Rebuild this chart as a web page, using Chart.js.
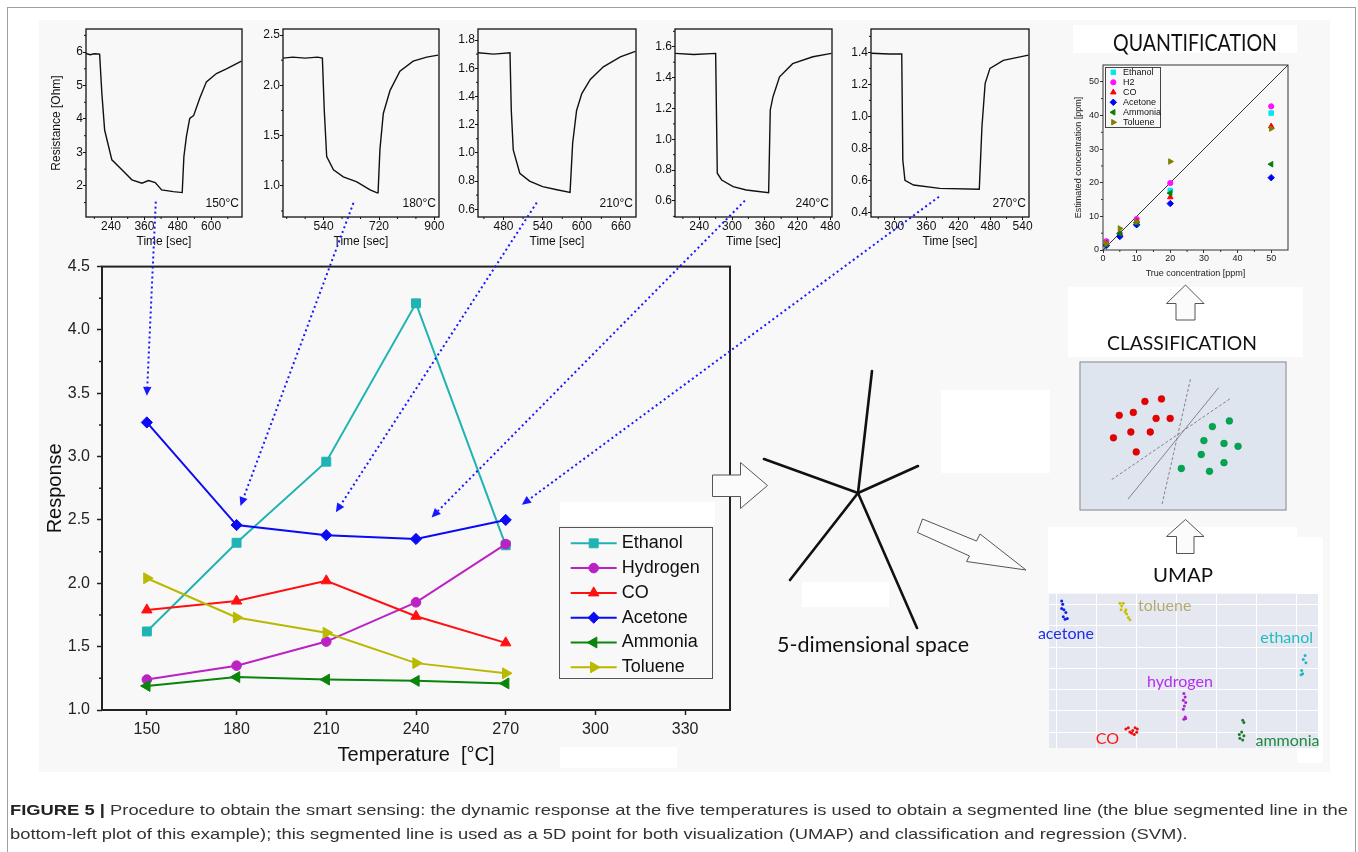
<!DOCTYPE html>
<html>
<head>
<meta charset="utf-8">
<title>Figure 5 – smart sensing procedure</title>
<script src="https://cdn.jsdelivr.net/npm/chart.js@4.4.1/dist/chart.umd.min.js"></script>
<style>
html,body{margin:0;padding:0;background:#fff;}
body{position:relative;width:1358px;height:852px;overflow:hidden;font-family:'Liberation Sans',Arial,sans-serif;}
.abs{position:absolute;}
canvas{position:absolute;}
.ttl{position:absolute;white-space:nowrap;font-family:Lato,'Open Sans',sans-serif;color:#111;transform-origin:0 50%;line-height:1.2;}
.cap{position:absolute;white-space:nowrap;font-family:'Liberation Sans',Arial,sans-serif;font-size:15px;color:#333;transform-origin:0 50%;line-height:1.2;}
.cap b{color:#222;}
</style>
</head>
<body>
<div class="abs" style="left:7px;top:7px;width:1347px;height:860px;border:1px solid #a0a0a0;"></div>
<div class="abs" style="left:39px;top:20px;width:1291px;height:752px;background:#f8f8f8;"></div>
<div class="abs" style="left:1073px;top:25px;width:224px;height:28px;background:#fff;"></div>
<div class="abs" style="left:1068px;top:287px;width:235px;height:70px;background:#fff;"></div>
<div class="abs" style="left:941px;top:390px;width:109px;height:83px;background:#fff;"></div>
<div class="abs" style="left:802px;top:582px;width:87px;height:25px;background:#fff;"></div>
<div class="abs" style="left:560px;top:502px;width:155px;height:23px;background:#fff;"></div>
<div class="abs" style="left:560px;top:747px;width:117px;height:21px;background:#fff;"></div>
<div class="abs" style="left:1048px;top:527px;width:249px;height:66px;background:#fff;"></div>
<div class="abs" style="left:1297px;top:537px;width:26px;height:226px;background:#fff;"></div>

<canvas id="c150" width="210" height="232" style="left:40px;top:20px"></canvas>
<canvas id="c180" width="194" height="232" style="left:253px;top:20px"></canvas>
<canvas id="c210" width="196" height="232" style="left:448px;top:20px"></canvas>
<canvas id="c240" width="195" height="232" style="left:645px;top:20px"></canvas>
<canvas id="c270" width="196" height="232" style="left:841px;top:20px"></canvas>
<canvas id="mainChart" width="720" height="530" style="left:20px;top:250px"></canvas>
<canvas id="quantChart" width="240" height="225" style="left:1062px;top:58px"></canvas>
<canvas id="classChart" width="216" height="158" style="left:1075px;top:357px"></canvas>
<canvas id="umapChart" width="295" height="163" style="left:1035px;top:590px"></canvas>

<svg class="abs" style="left:0;top:0" width="1358" height="852">
  <g stroke="#111" stroke-width="2.6" stroke-linecap="round">
    <line x1="858" y1="493" x2="872" y2="371"/>
    <line x1="858" y1="493" x2="918" y2="466"/>
    <line x1="858" y1="493" x2="917" y2="628"/>
    <line x1="858" y1="493" x2="790" y2="580"/>
    <line x1="858" y1="493" x2="764" y2="459"/>
  </g>
  <g fill="#fbfbfb" stroke="#555" stroke-width="1">
    <polygon points="712.5,475 740.5,475 740.5,462.5 767.5,485.5 740.5,508.5 740.5,496.5 712.5,496.5"/>
    <polygon points="922.5,519 976.5,541 980,534 1026,570 966.5,561.5 969.5,556 917.5,532.5"/>
    <polygon points="1185.5,519.5 1204,536.5 1194,536.5 1194,553.5 1176.5,553.5 1176.5,536.5 1166.5,536.5"/>
    <polygon points="1185.5,285 1204,303.5 1195,303.5 1195,320 1176,320 1176,303.5 1166.5,303.5"/>
  </g>
</svg>
<canvas id="overlay" width="1358" height="852" style="left:0;top:0;pointer-events:none"></canvas>

<div class="ttl" id="tQuant">QUANTIFICATION</div>
<div class="ttl" id="tClass">CLASSIFICATION</div>
<div class="ttl" id="tUmap">UMAP</div>
<div class="ttl" id="t5d">5-dimensional space</div>
<div class="cap" id="cap1"><b>FIGURE 5 |</b> Procedure to obtain the smart sensing: the dynamic response at the five temperatures is used to obtain a segmented line (the blue segmented line in the</div>
<div class="cap" id="cap2">bottom-left plot of this example); this segmented line is used as a 5D point for both visualization (UMAP) and classification and regression (SVM).</div>

<script>
// ======================= DATA =======================
// Main chart: response vs temperature
const temperatures = [150, 180, 210, 240, 270];
const tempTicks = [150, 180, 210, 240, 270, 300, 330];
const responseTicks = [1.0, 1.5, 2.0, 2.5, 3.0, 3.5, 4.0, 4.5];
const responseMinor = [1.25, 1.75, 2.25, 2.75, 3.25, 3.75, 4.25];
const gasNames = ['Ethanol', 'Hydrogen', 'CO', 'Acetone', 'Ammonia', 'Toluene'];
const ethanol  = [1.62, 2.32, 2.96, 4.21, 2.30];
const hydrogen = [1.24, 1.35, 1.54, 1.85, 2.31];
const co       = [1.79, 1.86, 2.02, 1.74, 1.53];
const acetone  = [3.27, 2.46, 2.38, 2.35, 2.50];
const ammonia  = [1.19, 1.26, 1.24, 1.23, 1.21];
const toluene  = [2.04, 1.73, 1.61, 1.37, 1.29];

// Dynamic responses (resistance vs time) at the five temperatures
const time150 = [150, 165, 180, 199, 207, 217, 243, 279, 315, 351, 375, 399, 422, 464, 496, 502, 511, 523, 537, 559, 583, 619, 655, 709];
const res150  = [5.96, 5.92, 5.95, 5.94, 4.77, 3.67, 2.78, 2.48, 2.18, 2.08, 2.16, 2.10, 1.88, 1.83, 1.80, 2.87, 3.47, 4.02, 4.10, 4.62, 5.11, 5.36, 5.50, 5.73];
const time180 = [408, 440, 480, 520, 536, 542, 550, 572, 604, 648, 691, 714, 717, 723, 734, 756, 788, 831, 875, 912];
const res180  = [2.27, 2.28, 2.27, 2.28, 2.27, 1.76, 1.29, 1.16, 1.09, 1.04, 0.96, 0.93, 0.93, 1.36, 1.72, 1.95, 2.14, 2.24, 2.28, 2.30];
const time210 = [441, 465, 490, 492, 495, 505, 520, 540, 560, 582, 586, 592, 600, 613, 633, 659, 682];
const res210  = [1.71, 1.70, 1.71, 1.30, 1.02, 0.855, 0.80, 0.76, 0.74, 0.72, 1.07, 1.30, 1.42, 1.52, 1.61, 1.68, 1.72];
const time240 = [196, 230, 270, 273, 281, 302, 326, 367, 370, 375, 387, 411, 448, 482];
const res240  = [1.557, 1.55, 1.557, 0.78, 0.736, 0.693, 0.671, 0.654, 1.19, 1.276, 1.405, 1.49, 1.535, 1.557];
const time270 = [257, 290, 314, 316, 320, 336, 385, 459, 464, 470, 479, 504, 551];
const res270  = [1.394, 1.39, 1.39, 0.727, 0.60, 0.571, 0.55, 0.544, 0.935, 1.206, 1.30, 1.35, 1.383];
const tempLabels = ['150°C', '180°C', '210°C', '240°C', '270°C'];
const xTicks150 = [240, 360, 480, 600];             const xMinor150 = [180, 300, 420, 540, 660];
const yTicks150 = [2, 3, 4, 5, 6];                  const yMinor150 = [1.5, 2.5, 3.5, 4.5, 5.5, 6.5];
const xTicks180 = [540, 720, 900];                  const xMinor180 = [420, 480, 600, 660, 780, 840];
const yTicks180 = [1.0, 1.5, 2.0, 2.5];             const yMinor180 = [0.75, 1.25, 1.75, 2.25];
const xTicks210 = [480, 540, 600, 660];             const xMinor210 = [450, 510, 570, 630];
const yTicks210 = [0.6, 0.8, 1.0, 1.2, 1.4, 1.6, 1.8]; const yMinor210 = [0.7, 0.9, 1.1, 1.3, 1.5, 1.7];
const xTicks240 = [240, 300, 360, 420, 480];        const xMinor240 = [210, 270, 330, 390, 450];
const yTicks240 = [0.6, 0.8, 1.0, 1.2, 1.4, 1.6];   const yMinor240 = [0.5, 0.7, 0.9, 1.1, 1.3, 1.5, 1.7];
const xTicks270 = [300, 360, 420, 480, 540];        const xMinor270 = [270, 330, 390, 450, 510];
const yTicks270 = [0.4, 0.6, 0.8, 1.0, 1.2, 1.4];   const yMinor270 = [0.5, 0.7, 0.9, 1.1, 1.3, 1.5];

// Quantification: estimated vs true concentration
const trueConc = [1, 5, 10, 20, 50];
const quantNames = ['Ethanol', 'H2', 'CO', 'Acetone', 'Ammonia', 'Toluene'];
const estEthanol = [2.5, 4.5, 7.7, 17.7, 40.7];
const estH2      = [2.6, 4.8, 9.2, 19.9, 42.7];
const estCO      = [2.0, 4.6, 8.5, 15.7, 36.8];
const estAcetone = [1.3, 4.0, 7.5, 13.8, 21.5];
const estAmmonia = [1.6, 4.9, 8.1, 16.9, 25.5];
const estToluene = [1.9, 6.4, 8.4, 26.3, 36.1];
const idealLine = [0, 55];
const quantTicks = [0, 10, 20, 30, 40, 50];
const quantMinor = [5, 15, 25, 35, 45];

// Classification sketch (arbitrary 0-100 feature space)
const classRedX   = [31.6, 39.6, 19.2, 26.0, 37.0, 43.8, 24.8, 34.2, 16.4, 27.4];
const classRedY   = [73.2, 74.9, 63.9, 65.8, 61.8, 61.8, 52.7, 52.7, 48.8, 39.3];
const classGreenX = [72.4, 64.2, 60.1, 69.8, 76.6, 58.8, 69.8, 49.2, 62.8];
const classGreenY = [60.1, 56.3, 46.9, 45.0, 43.1, 37.6, 32.1, 28.2, 26.3];
const boundAX = [53.6, 39.8]; const boundAY = [88.1, 3.8];
const boundBX = [67.2, 23.4]; const boundBY = [82.4, 7.6];
const boundCX = [72.6, 15.2]; const boundCY = [74.9, 20.4];

// UMAP embedding
const umapAcetoneX  = [-0.875, -0.85, -0.875, -0.82, -0.77, -0.835, -0.79, -0.735];
const umapAcetoneY  = [1.17, 1.01, 0.81, 0.75, 0.62, 0.43, 0.31, 0.34];
const umapTolueneX  = [0.58, 0.625, 0.665, 0.61, 0.71, 0.75, 0.79, 0.83, 0.73];
const umapTolueneY  = [1.06, 0.93, 1.06, 0.75, 0.65, 0.55, 0.39, 0.28, 0.75];
const umapEthanolX  = [5.21, 5.165, 5.23, 5.125, 5.15, 5.11];
const umapEthanolY  = [-1.40, -1.59, -1.74, -2.10, -2.26, -2.30];
const umapHydrogenX = [2.18, 2.21, 2.165, 2.225, 2.19, 2.165, 2.21, 2.18, 2.225];
const umapHydrogenY = [-3.19, -3.35, -3.50, -3.61, -3.77, -3.93, -4.29, -4.39, -4.36];
const umapCOX       = [0.73, 0.79, 0.83, 0.90, 0.96, 1.015, 1.0, 0.94, 0.88];
const umapCOY       = [-4.86, -4.80, -4.99, -4.92, -4.80, -4.86, -5.01, -5.11, -5.06];
const umapAmmoniaX  = [3.65, 3.68, 3.625, 3.565, 3.58, 3.65, 3.68];
const umapAmmoniaY  = [-4.44, -4.55, -4.99, -5.11, -5.29, -5.37, -5.17];
const umapLabelText = ['acetone', 'toluene', 'ethanol', 'hydrogen', 'CO', 'ammonia'];
const umapLabelX    = [-0.77, 1.70, 4.75, 2.08, 0.27, 4.77];
const umapLabelY    = [-0.39, 0.93, -0.55, -2.65, -5.34, -5.42];
const umapGridX = [-1, 0, 1, 2, 3, 4, 5];
const umapGridY = [1, 0, -1, -2, -3, -4, -5];

// Annotation arrows: from a point of each dynamic-response plot to the main plot
const arrowFromT = [401, 637, 531, 323.5, 383.6];
const arrowFromR = [1.53, 0.83, 0.647, 0.602, 0.4975];
const arrowToT   = [150, 181.3, 213.2, 245.2, 275.4];
const arrowToR   = [3.48, 2.61, 2.56, 2.52, 2.62];

// ======================= SETUP =======================
const ARIAL = "'Liberation Sans', Arial, Helvetica, sans-serif";
Chart.defaults.font.family = ARIAL;
Chart.defaults.color = '#111';
Chart.defaults.animation = false;
Chart.defaults.responsive = false;
Chart.defaults.events = [];
Chart.defaults.plugins.legend.display = false;
Chart.defaults.plugins.tooltip.enabled = false;

function drawMarker(c, ds, x, y) {
  if (Chart.helpers && Chart.helpers.drawPoint) {
    Chart.helpers.drawPoint(c, {pointStyle: ds.pointStyle, rotation: ds.pointRotation || 0, radius: ds.pointRadius, borderWidth: 1}, x, y);
  } else {
    c.beginPath(); c.arc(x, y, ds.pointRadius, 0, Math.PI * 2); c.fill();
  }
}

const bgPlugin = {
  id: 'areaBg',
  beforeDraw(chart, args, o) {
    if (!o || !o.color) return;
    const a = chart.chartArea, c = chart.ctx;
    c.save(); c.fillStyle = o.color; c.fillRect(a.left, a.top, a.right - a.left, a.bottom - a.top); c.restore();
  }
};
const framePlugin = {
  id: 'frame',
  afterDraw(chart, args, o) {
    if (!o || !o.color) return;
    const a = chart.chartArea, c = chart.ctx, h = o.inset || 0;
    c.save(); c.strokeStyle = o.color; c.lineWidth = o.width || 1;
    c.strokeRect(a.left + h, a.top + h, a.right - a.left - 2 * h, a.bottom - a.top - 2 * h);
    c.restore();
  }
};
const minorPlugin = {
  id: 'minorTicks',
  afterDraw(chart, args, o) {
    if (!o || !o.len) return;
    const a = chart.chartArea, c = chart.ctx;
    c.save(); c.strokeStyle = o.color || '#111'; c.lineWidth = o.width || 1; c.beginPath();
    (o.x || []).forEach(v => { const p = chart.scales.x.getPixelForValue(v); c.moveTo(p, a.bottom); c.lineTo(p, a.bottom + o.len); });
    (o.y || []).forEach(v => { const p = chart.scales.y.getPixelForValue(v); c.moveTo(a.left, p); c.lineTo(a.left - o.len, p); });
    c.stroke(); c.restore();
  }
};
const cornerPlugin = {
  id: 'cornerText',
  afterDraw(chart, args, o) {
    if (!o || !o.text) return;
    const a = chart.chartArea, c = chart.ctx;
    c.save(); c.font = o.font; c.fillStyle = '#111'; c.textAlign = 'right'; c.textBaseline = 'middle';
    c.fillText(o.text, a.right - o.dx, a.bottom - o.dy); c.restore();
  }
};
const legendPlugin = {
  id: 'boxLegend',
  afterDraw(chart, args, o) {
    if (!o || !o.box) return;
    const c = chart.ctx, b = o.box;
    c.save();
    c.fillStyle = o.fill; c.fillRect(b[0], b[1], b[2], b[3]);
    c.strokeStyle = o.borderColor; c.lineWidth = 1; c.strokeRect(b[0] + 0.5, b[1] + 0.5, b[2], b[3]);
    let row = 0;
    chart.data.datasets.forEach(ds => {
      if (ds.noLegend) return;
      const y = o.rowY + row * o.rowH; row++;
      let mx = o.markerX;
      if (o.lineLen) {
        c.strokeStyle = ds.borderColor; c.lineWidth = ds.borderWidth; c.beginPath();
        c.moveTo(o.lineX, y); c.lineTo(o.lineX + o.lineLen, y); c.stroke();
        mx = o.lineX + o.lineLen / 2;
      }
      c.fillStyle = ds.pointBackgroundColor; c.strokeStyle = ds.pointBorderColor; c.lineWidth = 1;
      drawMarker(c, ds, mx, y);
      c.fillStyle = o.textColor; c.font = o.font; c.textAlign = 'left'; c.textBaseline = 'middle';
      c.fillText(ds.label, o.textX, y);
    });
    c.restore();
  }
};
const dataLabelPlugin = {
  id: 'dataLabels',
  afterDraw(chart, args, o) {
    if (!o || !o.texts) return;
    const c = chart.ctx;
    c.save(); c.font = o.font; c.textAlign = 'center'; c.textBaseline = 'middle';
    o.texts.forEach((t, i) => {
      c.fillStyle = o.colors[i];
      c.fillText(t, chart.scales.x.getPixelForValue(o.xs[i]), chart.scales.y.getPixelForValue(o.ys[i]));
    });
    c.restore();
  }
};
Chart.register(bgPlugin, framePlugin, minorPlugin, cornerPlugin, legendPlugin, dataLabelPlugin);

const pts = (xs, ys) => xs.map((x, i) => ({x: x, y: ys[i]}));
const fixedTicks = arr => (s => { s.ticks = arr.map(v => ({value: v})); });

// ======================= SMALL CHARTS =======================
const smallSpecs = [
  {id: 'c150', t: time150, r: res150, xMin: 150, xMax: 711, yMin: 1.07, yMax: 6.69, xT: xTicks150, xM: xMinor150, yT: yTicks150, yM: yMinor150, dec: 0, label: tempLabels[0], yTitle: true},
  {id: 'c180', t: time180, r: res180, xMin: 408, xMax: 915, yMin: 0.69, yMax: 2.56, xT: xTicks180, xM: xMinor180, yT: yTicks180, yM: yMinor180, dec: 1, label: tempLabels[1], yTitle: false},
  {id: 'c210', t: time210, r: res210, xMin: 441, xMax: 683, yMin: 0.545, yMax: 1.878, xT: xTicks210, xM: xMinor210, yT: yTicks210, yM: yMinor210, dec: 1, label: tempLabels[2], yTitle: false},
  {id: 'c240', t: time240, r: res240, xMin: 195.6, xMax: 483, yMin: 0.496, yMax: 1.715, xT: xTicks240, xM: xMinor240, yT: yTicks240, yM: yMinor240, dec: 1, label: tempLabels[3], yTitle: false},
  {id: 'c270', t: time270, r: res270, xMin: 256.5, xMax: 552, yMin: 0.371, yMax: 1.546, xT: xTicks270, xM: xMinor270, yT: yTicks270, yM: yMinor270, dec: 1, label: tempLabels[4], yTitle: false}
];
const smallGeo = [{yW: 46, padR: 8}, {yW: 30, padR: 8}, {yW: 30, padR: 8}, {yW: 30, padR: 8}, {yW: 30, padR: 8}];

const smallCharts = smallSpecs.map((sp, k) => new Chart(document.getElementById(sp.id), {
  type: 'line',
  data: {datasets: [{data: pts(sp.t, sp.r), borderColor: '#111', borderWidth: 1.4, pointRadius: 0, tension: 0}]},
  options: {
    layout: {padding: {top: 9, right: smallGeo[k].padR, left: 0, bottom: 0}},
    plugins: {
      frame: {color: '#111', width: 1.3},
      minorTicks: {x: sp.xM, y: sp.yM, len: 2, color: '#111'},
      cornerText: {text: sp.label, font: '12px ' + ARIAL, dx: 3, dy: 13}
    },
    scales: {
      x: {
        type: 'linear', min: sp.xMin, max: sp.xMax,
        afterBuildTicks: fixedTicks(sp.xT), afterFit: s => { s.height = 35; },
        grid: {drawOnChartArea: false, tickLength: 3, tickColor: '#111'}, border: {display: false},
        ticks: {font: {size: 12}, color: '#111', padding: -1, maxRotation: 0, autoSkip: false, callback: v => String(v)},
        title: {display: true, text: 'Time [sec]', font: {size: 12}, color: '#111', padding: {top: 0, bottom: 3}}
      },
      y: {
        type: 'linear', min: sp.yMin, max: sp.yMax,
        afterBuildTicks: fixedTicks(sp.yT), afterFit: s => { s.width = smallGeo[k].yW; },
        grid: {drawOnChartArea: false, tickLength: 3, tickColor: '#111'}, border: {display: false},
        ticks: {font: {size: 12}, color: '#111', padding: 0, autoSkip: false, callback: v => v.toFixed(sp.dec)},
        title: {display: sp.yTitle, text: 'Resistance [Ohm]', font: {size: 12}, color: '#111', padding: {top: 9.5, bottom: 0}}
      }
    }
  }
}));

// ======================= MAIN CHART =======================
const mainSeries = [ethanol, hydrogen, co, acetone, ammonia, toluene];
const mainStyle = [
  {color: '#1fb3b3', shape: 'rect', r: 6.3, rot: 0},
  {color: '#bb22c4', shape: 'circle', r: 4.8, rot: 0},
  {color: '#ff1010', shape: 'triangle', r: 6, rot: 0},
  {color: '#0a0af5', shape: 'rectRot', r: 5.6, rot: 0},
  {color: '#0a840a', shape: 'triangle', r: 6.3, rot: -90},
  {color: '#b9b900', shape: 'triangle', r: 6.3, rot: 90}
];
const mainChart = new Chart(document.getElementById('mainChart'), {
  type: 'line',
  data: {
    datasets: mainSeries.map((vals, i) => ({
      label: gasNames[i], data: pts(temperatures, vals),
      borderColor: mainStyle[i].color, backgroundColor: mainStyle[i].color,
      pointBackgroundColor: mainStyle[i].color, pointBorderColor: mainStyle[i].color,
      pointStyle: mainStyle[i].shape, pointRadius: mainStyle[i].r, pointRotation: mainStyle[i].rot,
      pointBorderWidth: 1, borderWidth: 2, tension: 0, order: 6 - i, clip: false
    }))
  },
  options: {
    layout: {padding: {top: 11, right: 10, left: 0, bottom: 0}},
    plugins: {
      frame: {color: '#222', width: 2},
      minorTicks: {y: responseMinor, len: 3, color: '#222', width: 1.5},
      boxLegend: {box: [539, 277, 153, 151], fill: '#f8f8f8', borderColor: '#555', rowY: 293.3, rowH: 24.8,
                  lineX: 550.7, lineLen: 46, textX: 601.7, font: '18px ' + ARIAL, textColor: '#111'}
    },
    scales: {
      x: {
        type: 'linear', min: 135, max: 345,
        afterBuildTicks: fixedTicks(tempTicks), afterFit: s => { s.height = 70; },
        grid: {drawOnChartArea: false, tickLength: 5, tickColor: '#222', tickWidth: 1.5}, border: {display: false},
        ticks: {font: {size: 16}, color: '#222', padding: 5, maxRotation: 0, autoSkip: false, callback: v => String(v)},
        title: {display: true, text: 'Temperature  [°C]', font: {size: 20}, color: '#111', padding: {top: 0, bottom: 13}}
      },
      y: {
        type: 'linear', min: 1.0, max: 4.5,
        afterBuildTicks: fixedTicks(responseTicks), afterFit: s => { s.width = 82; },
        grid: {drawOnChartArea: false, tickLength: 5, tickColor: '#222', tickWidth: 1.5}, border: {display: false},
        ticks: {font: {size: 16}, color: '#222', padding: 7, autoSkip: false, callback: v => v.toFixed(1)},
        title: {display: true, text: 'Response', font: {size: 20}, color: '#111', padding: {top: 23, bottom: 0}}
      }
    }
  }
});

// ======================= QUANTIFICATION =======================
const quantSeries = [estEthanol, estH2, estCO, estAcetone, estAmmonia, estToluene];
const quantStyle = [
  {color: '#00e8ee', shape: 'rect', r: 3.2, rot: 0},
  {color: '#ff10ff', shape: 'circle', r: 2.6, rot: 0},
  {color: '#ff0000', shape: 'triangle', r: 3.2, rot: 0},
  {color: '#0000ff', shape: 'rectRot', r: 3.2, rot: 0},
  {color: '#008000', shape: 'triangle', r: 3.2, rot: -90},
  {color: '#808000', shape: 'triangle', r: 3.2, rot: 90}
];
const quantDatasets = quantSeries.map((vals, i) => ({
  label: quantNames[i], data: pts(trueConc, vals),
  backgroundColor: quantStyle[i].color, borderColor: quantStyle[i].color,
  pointBackgroundColor: quantStyle[i].color, pointBorderColor: quantStyle[i].color,
  pointStyle: quantStyle[i].shape, pointRadius: quantStyle[i].r, pointRotation: quantStyle[i].rot,
  pointBorderWidth: 1, borderWidth: 1, order: 6 - i
}));
quantDatasets.push({label: 'ideal', data: pts(idealLine, idealLine), showLine: true, borderColor: '#333', borderWidth: 1, pointRadius: 0, noLegend: true, order: 10});
const quantChart = new Chart(document.getElementById('quantChart'), {
  type: 'scatter',
  data: {datasets: quantDatasets},
  options: {
    layout: {padding: {top: 7, right: 14, left: 0, bottom: 0}},
    plugins: {
      frame: {color: '#333', width: 1},
      minorTicks: {x: quantMinor, y: quantMinor, len: 2, color: '#333'},
      boxLegend: {box: [43, 9, 55, 60], fill: '#f8f8f8', borderColor: '#444', rowY: 14.3, rowH: 10,
                  markerX: 51.3, textX: 61, font: '9px ' + ARIAL, textColor: '#111'}
    },
    scales: {
      x: {
        type: 'linear', min: 0, max: 55,
        afterBuildTicks: fixedTicks(quantTicks), afterFit: s => { s.height = 33; },
        grid: {drawOnChartArea: false, tickLength: 3, tickColor: '#333'}, border: {display: false},
        ticks: {font: {size: 9}, color: '#222', padding: 0, maxRotation: 0, autoSkip: false},
        title: {display: true, text: 'True concentration [ppm]', font: {size: 9}, color: '#222', padding: {top: 0, bottom: 4.3}}
      },
      y: {
        type: 'linear', min: 0, max: 55,
        afterBuildTicks: fixedTicks(quantTicks), afterFit: s => { s.width = 41; },
        grid: {drawOnChartArea: false, tickLength: 3, tickColor: '#333'}, border: {display: false},
        ticks: {font: {size: 9}, color: '#222', padding: 1, autoSkip: false},
        title: {display: true, text: 'Estimated concentration [ppm]', font: {size: 9}, color: '#222', padding: {top: 10.9, bottom: 0}}
      }
    }
  }
});

// ======================= CLASSIFICATION =======================
const classChart = new Chart(document.getElementById('classChart'), {
  type: 'scatter',
  data: {
    datasets: [
      {data: pts(classRedX, classRedY), pointRadius: 3.4, pointBackgroundColor: '#e60000', pointBorderColor: '#c00000', pointBorderWidth: 0.5},
      {data: pts(classGreenX, classGreenY), pointRadius: 3.4, pointBackgroundColor: '#00a651', pointBorderColor: '#008a40', pointBorderWidth: 0.5},
      {data: pts(boundAX, boundAY), showLine: true, pointRadius: 0, borderColor: '#777', borderWidth: 0.9, borderDash: [3, 2]},
      {data: pts(boundBX, boundBY), showLine: true, pointRadius: 0, borderColor: '#777', borderWidth: 0.9},
      {data: pts(boundCX, boundCY), showLine: true, pointRadius: 0, borderColor: '#777', borderWidth: 0.9, borderDash: [3, 2]}
    ]
  },
  options: {
    layout: {padding: 0},
    plugins: {areaBg: {color: '#dfe5ef'}, frame: {color: '#8a8a8a', width: 1, inset: 0.5}},
    scales: {x: {type: 'linear', min: 0, max: 100, display: false}, y: {type: 'linear', min: 0, max: 100, display: false}}
  }
});

// ======================= UMAP =======================
const umapClusters = [
  [umapAcetoneX, umapAcetoneY, '#1020e0'],
  [umapTolueneX, umapTolueneY, '#c8c000'],
  [umapEthanolX, umapEthanolY, '#20b8c0'],
  [umapHydrogenX, umapHydrogenY, '#b020d0'],
  [umapCOX, umapCOY, '#f01010'],
  [umapAmmoniaX, umapAmmoniaY, '#1a7a2a']
];
const umapLabelColors = ['#1f2fe8', '#b0ac70', '#22bcc0', '#b42ef0', '#ff1414', '#1e8a3e'];
const umapChart = new Chart(document.getElementById('umapChart'), {
  type: 'scatter',
  data: {datasets: umapClusters.map(c => ({data: pts(c[0], c[1]), pointRadius: 1.5, pointBackgroundColor: c[2], pointBorderWidth: 0}))},
  options: {
    layout: {padding: {left: 14, right: 12, top: 3, bottom: 5}},
    plugins: {
      areaBg: {color: '#e6e8f1'},
      dataLabels: {texts: umapLabelText, xs: umapLabelX, ys: umapLabelY, colors: umapLabelColors, font: '16px Lato, "Open Sans", sans-serif'}
    },
    scales: {
      x: {type: 'linear', min: -1.1925, max: 5.5325, afterBuildTicks: fixedTicks(umapGridX), afterFit: s => { s.height = 0; },
          grid: {color: '#ffffff', lineWidth: 1, drawTicks: false}, border: {display: false}, ticks: {display: false}},
      y: {type: 'linear', min: -5.748, max: 1.495, afterBuildTicks: fixedTicks(umapGridY), afterFit: s => { s.width = 0; },
          grid: {color: '#ffffff', lineWidth: 1, drawTicks: false}, border: {display: false}, ticks: {display: false}}
    }
  }
});

// ======================= ANNOTATION ARROWS =======================
function pagePoint(chart, x, y) {
  return [chart.canvas.offsetLeft + chart.scales.x.getPixelForValue(x), chart.canvas.offsetTop + chart.scales.y.getPixelForValue(y)];
}
(function drawArrows() {
  const c = document.getElementById('overlay').getContext('2d');
  c.strokeStyle = '#1818ff'; c.fillStyle = '#1818ff';
  arrowFromT.forEach((t, i) => {
    const a = pagePoint(smallCharts[i], t, arrowFromR[i]);
    const b = pagePoint(mainChart, arrowToT[i], arrowToR[i]);
    const dx = b[0] - a[0], dy = b[1] - a[1], L = Math.hypot(dx, dy), ux = dx / L, uy = dy / L;
    const hl = 9, hw = 4.2;
    const bx = b[0] - ux * hl, by = b[1] - uy * hl;
    c.save(); c.lineWidth = 2; c.setLineDash([2, 3]);
    c.beginPath(); c.moveTo(a[0], a[1]); c.lineTo(bx, by); c.stroke(); c.restore();
    c.beginPath(); c.moveTo(b[0], b[1]); c.lineTo(bx - uy * hw, by + ux * hw); c.lineTo(bx + uy * hw, by - ux * hw); c.closePath(); c.fill();
  });
})();

// ======================= TEXT PLACEMENT =======================
function placeTitle(id, left, cy, width, size) {
  const el = document.getElementById(id);
  el.style.fontSize = size + 'px'; el.style.left = left + 'px'; el.style.top = (cy - 0.628 * size) + 'px';
  el.style.transform = 'none';
  const w = el.getBoundingClientRect().width;
  el.style.transform = 'scaleX(' + (width / w) + ')';
}
function placeCaption() {
  const l1 = document.getElementById('cap1'), l2 = document.getElementById('cap2');
  [l1, l2].forEach(e => { e.style.transform = 'none'; e.style.left = '10px'; });
  l1.style.top = (810 - 0.62 * 15) + 'px'; l2.style.top = (834 - 0.62 * 15) + 'px';
  const k = 1338 / l1.getBoundingClientRect().width;
  l1.style.transform = 'scaleX(' + k + ')'; l2.style.transform = 'scaleX(' + k + ')';
}
function placeAll() {
  placeTitle('tQuant', 1113, 43.5, 164, 23);
  placeTitle('tClass', 1107, 342.5, 150, 20);
  placeTitle('tUmap', 1153, 575, 60, 20);
  placeTitle('t5d', 777, 645, 192, 22);
  placeCaption();
}
placeAll();
if (document.fonts && document.fonts.ready) document.fonts.ready.then(placeAll);
</script>
</body>
</html>
